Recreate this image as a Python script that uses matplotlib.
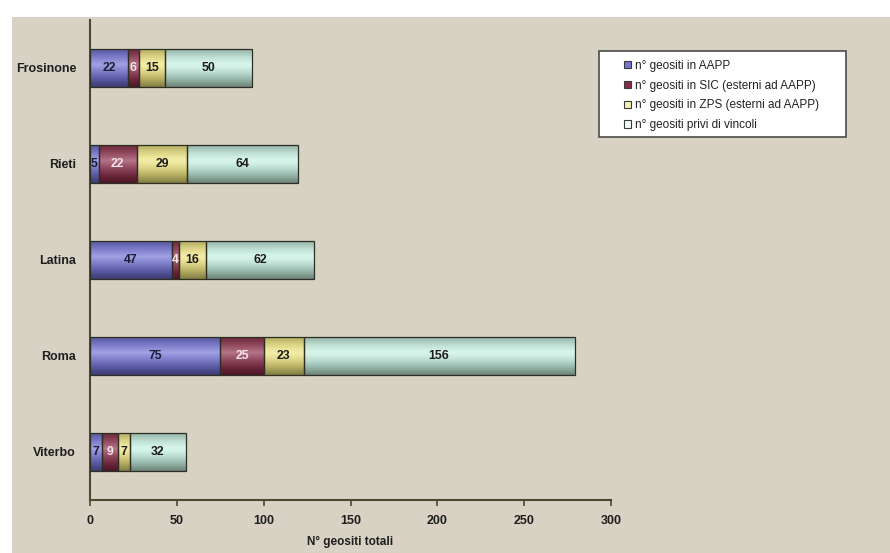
import numpy as np
import matplotlib
matplotlib.use("Agg")
import matplotlib.pyplot as plt
from matplotlib.patches import Patch, Rectangle
from matplotlib.colors import to_rgb

plt.rcParams['font.family'] = ['Liberation Sans', 'DejaVu Sans']

# province, top to bottom
province = ['Frosinone', 'Rieti', 'Latina', 'Roma', 'Viterbo']

# number of geosites per category
aapp = [22, 5, 47, 75, 7]
sic = [6, 22, 4, 25, 9]
zps = [15, 29, 16, 23, 7]
privi = [50, 64, 62, 156, 32]

serie_nomi = ['n° geositi in AAPP',
              'n° geositi in SIC (esterni ad AAPP)',
              'n° geositi in ZPS (esterni ad AAPP)',
              'n° geositi privi di vincoli']
colori = ['#6e6ed2', '#8a2c48', '#ece27c', '#c4efdf']
col_testo = ['#1c1c34', '#f4e4ea', '#1c1c1c', '#1c1c1c']
col_legenda = ['#7474cf', '#8a2c48', '#f4f0b0', '#f2fbf6']

BG = '#d7d2c4'
AX = '#4a4a30'


def shade(ax, patch, colore, n=64):
    # cylinder-like vertical shading, clipped to the bar
    base = np.array(to_rgb(colore))
    t = np.linspace(0, 1, n)
    d = np.clip(np.abs(t - 0.42) / 0.58, 0, 1)
    dark = base * (1 - 0.45 * d[:, None] ** 1.4)
    light = 0.35 * (1 - d[:, None]) ** 2
    rgb = np.clip(dark + (1 - dark) * light, 0, 1)
    x0, y0 = patch.get_x(), patch.get_y()
    w, h = patch.get_width(), patch.get_height()
    im = ax.imshow(rgb[:, None, :], extent=(x0, x0 + w, y0, y0 + h),
                   origin='upper', aspect='auto', interpolation='bilinear',
                   zorder=2)
    im.set_clip_path(patch)
    patch.set_facecolor('none')
    patch.set_zorder(3)


fig = plt.figure(figsize=(8.9, 5.53), dpi=100)
fig.patch.set_facecolor('white')
fig.patches.append(Rectangle((12 / 890, 0), 1, (553 - 17) / 553,
                             transform=fig.transFigure, facecolor=BG,
                             edgecolor='none', zorder=-10))

ax = fig.add_axes([90 / 890, 53 / 553, 521 / 890, 480 / 553])
ax.set_facecolor('none')

y = np.arange(len(province))[::-1]
serie = [aapp, sic, zps, privi]
left = np.zeros(len(province))
for vals, col, tcol in zip(serie, colori, col_testo):
    bars = ax.barh(y, vals, left=left, height=0.4, color=col,
                   edgecolor='#2e2e22', linewidth=0.9)
    for p in bars:
        shade(ax, p, col)
    ax.bar_label(bars, labels=[str(v) for v in vals], label_type='center',
                 color=tcol, fontsize=8.8, fontweight='bold', zorder=4)
    left += np.array(vals)

ax.set_xlim(0, 300)
ax.set_ylim(-0.5, len(province) - 0.5)
ax.set_xticks(np.arange(0, 301, 50))
ax.set_yticks(y)
ax.set_yticklabels(province)
ax.tick_params(axis='y', length=0, pad=10, labelsize=9, labelcolor='#1e1e1e')
ax.tick_params(axis='x', length=4, width=1.2, color=AX, pad=7,
               labelsize=9, labelcolor='#1e1e1e')
for lab in ax.get_xticklabels() + ax.get_yticklabels():
    lab.set_fontweight('bold')
ax.set_xlabel('N° geositi totali', fontsize=8.5, fontweight='bold',
              color='#1e1e1e', labelpad=6)

for s in ['top', 'right']:
    ax.spines[s].set_visible(False)
for s in ['left', 'bottom']:
    ax.spines[s].set_color(AX)
    ax.spines[s].set_linewidth(1.5)

# legend box
fig.patches.append(Rectangle((599 / 890, 1 - 137 / 553), 247 / 890, 86 / 553,
                             transform=fig.transFigure, facecolor='white',
                             edgecolor='#4a4a4a', linewidth=1.2, zorder=5))
handles = [Patch(facecolor=c, edgecolor='#3a3a3a', linewidth=0.8)
           for c in col_legenda]
leg = fig.legend(handles, serie_nomi, loc='upper left',
                 bbox_to_anchor=(618 / 890, 1 - 54 / 553), frameon=False,
                 fontsize=8.5, labelspacing=0.66, borderpad=0,
                 handlelength=0.6, handleheight=0.6, handletextpad=0.35)
leg.set_zorder(6)
for txt in leg.get_texts():
    txt.set_color('#222222')

fig.savefig('out.png', dpi=100, facecolor=fig.get_facecolor())
